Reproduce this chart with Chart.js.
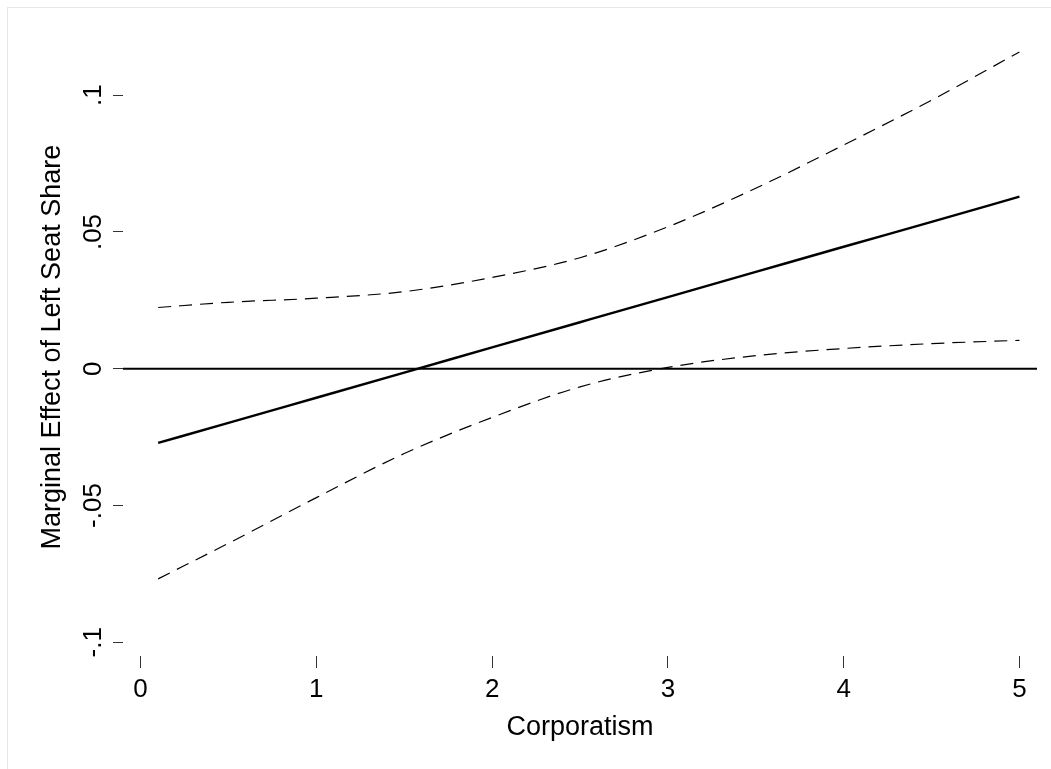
<!DOCTYPE html>
<html>
<head>
<meta charset="utf-8">
<script src="https://cdn.jsdelivr.net/npm/chart.js@4/dist/chart.umd.min.js"></script>
<style>
  html, body { margin: 0; padding: 0; background: #fff; overflow: hidden; }
  #frame { position: absolute; left: 7px; top: 7px; width: 1200px; height: 900px; border: 1px solid #e6e6e6; }
  #wrap { position: absolute; left: 0; top: 0; width: 1051px; height: 769px; }
</style>
</head>
<body>
<div id="frame"></div>
<div id="wrap"><canvas id="myChart" width="1051" height="769"></canvas></div>
<script>
// corporatism values
let corpo = [0.1, 0.5, 1, 1.5, 2, 2.5, 3, 3.5, 4, 4.5, 5];
// marginal effect and 95% bounds
let effect = [-0.0271, -0.0198, -0.0106, -0.0014, 0.0078, 0.0170, 0.0262, 0.0354, 0.0446, 0.0537, 0.0629];
let upper = [0.0224, 0.0243, 0.0258, 0.0282, 0.0334, 0.0406, 0.0519, 0.0660, 0.0818, 0.0982, 0.1158];
let lower = [-0.0768, -0.0638, -0.0471, -0.0310, -0.0178, -0.0066, 0.0005, 0.0048, 0.0074, 0.0092, 0.0104];

let xTicks = [0, 1, 2, 3, 4, 5];
let yTicks = [-0.1, -0.05, 0, 0.05, 0.1];
let xRange = [-0.1, 5.1];
let yRange = [-0.105, 0.1275];

let yTitle = "Marginal Effect of Left Seat Share";
let font = "'Liberation Sans', Arial, Helvetica, sans-serif";

function pts(ys) {
    return corpo.map((x, i) => ({ x: x, y: ys[i] }));
}

function stataLabel(v) {
    return String(v).replace("0.", ".");
}

// y tick labels and title are rotated like Stata's
let yLabelPlugin = {
    id: "yLabels",
    afterDraw(chart) {
        let ctx = chart.ctx;
        let scale = chart.scales.y;
        ctx.save();
        ctx.fillStyle = "#000";
        ctx.textAlign = "center";
        ctx.textBaseline = "middle";
        ctx.font = "26px " + font;
        yTicks.forEach(v => {
            let py = scale.getPixelForValue(v);
            ctx.save();
            ctx.translate(94, py);
            ctx.rotate(-Math.PI / 2);
            ctx.fillText(stataLabel(v), 0, 0);
            ctx.restore();
        });
        // title centred on the data range (-.1 .. top of ci), as Stata does
        let mid = (scale.getPixelForValue(yTicks[0]) + scale.getPixelForValue(Math.max(...upper))) / 2;
        ctx.font = "27px " + font;
        ctx.translate(53, mid);
        ctx.rotate(-Math.PI / 2);
        ctx.fillText(yTitle, 0, 0);
        ctx.restore();
    }
};

let ctx = document.getElementById("myChart").getContext("2d");
let myChart = new Chart(ctx, {
    type: "line",
    data: {
        datasets: [{
            data: [{ x: xRange[0], y: 0 }, { x: xRange[1], y: 0 }],
            borderColor: "#000",
            borderWidth: 2,
            pointRadius: 0
        }, {
            data: pts(upper),
            borderColor: "#000",
            borderWidth: 1.2,
            borderDash: [13, 8],
            pointRadius: 0,
            cubicInterpolationMode: "monotone"
        }, {
            data: pts(lower),
            borderColor: "#000",
            borderWidth: 1.2,
            borderDash: [13, 8],
            pointRadius: 0,
            cubicInterpolationMode: "monotone"
        }, {
            data: pts(effect),
            borderColor: "#000",
            borderWidth: 2.4,
            pointRadius: 0,
            cubicInterpolationMode: "monotone"
        }]
    },
    plugins: [yLabelPlugin],
    options: {
        responsive: false,
        animation: false,
        layout: { padding: { top: 20, right: 14, left: 0, bottom: 0 } },
        plugins: { legend: { display: false }, tooltip: { enabled: false } },
        scales: {
            x: {
                type: "linear",
                min: xRange[0],
                max: xRange[1],
                afterBuildTicks: s => { s.ticks = xTicks.map(v => ({ value: v })); },
                afterFit: s => { s.height = 113; },
                border: { display: false },
                grid: { drawOnChartArea: false, drawTicks: true, tickLength: 12, tickColor: "#333", tickWidth: 1 },
                ticks: {
                    color: "#000",
                    font: { family: font, size: 26 },
                    padding: 6,
                    maxRotation: 0,
                    callback: v => String(v)
                },
                title: {
                    display: true,
                    text: "Corporatism",
                    color: "#000",
                    font: { family: font, size: 27 },
                    padding: { top: 0, bottom: 25 }
                }
            },
            y: {
                type: "linear",
                min: yRange[0],
                max: yRange[1],
                afterBuildTicks: s => { s.ticks = yTicks.map(v => ({ value: v })); },
                afterFit: s => { s.width = 123; },
                border: { display: false },
                grid: { drawOnChartArea: false, drawTicks: true, tickLength: 10, tickColor: "#333", tickWidth: 1 },
                ticks: { display: false }
            }
        }
    }
});
</script>
</body>
</html>
